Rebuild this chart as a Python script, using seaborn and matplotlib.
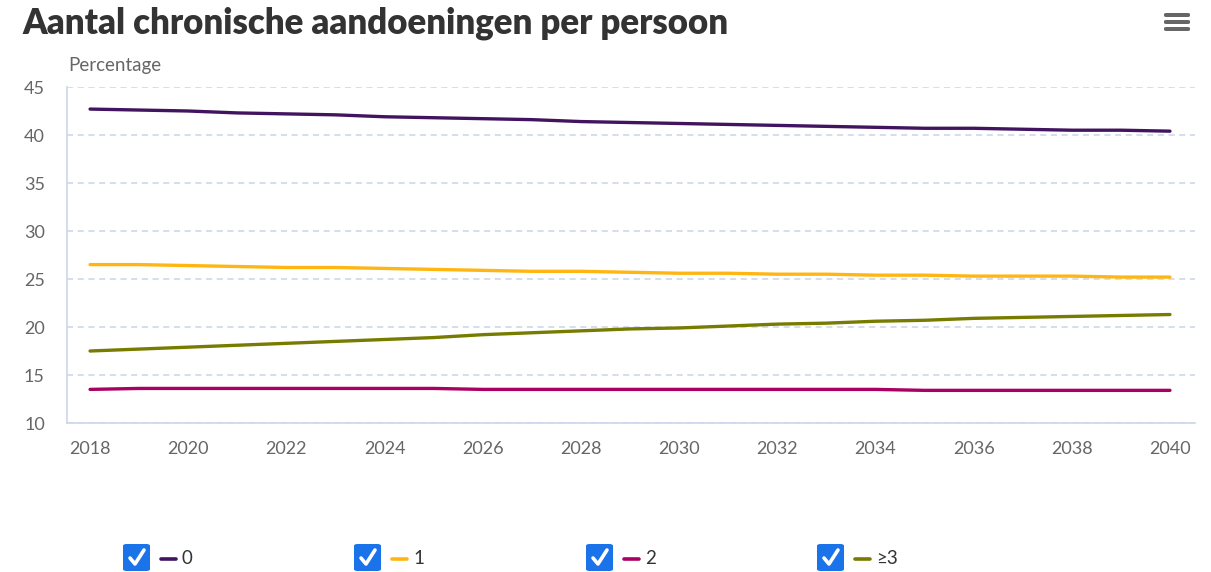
import numpy as np
import pandas as pd
import matplotlib
matplotlib.use("Agg")
import matplotlib.pyplot as plt
from matplotlib.patches import FancyBboxPatch, Rectangle
from matplotlib.lines import Line2D
import seaborn as sns

years = list(range(2018, 2041))
series_names = ["0", "1", "2", "≥3"]
vals_0 = [42.7, 42.6, 42.5, 42.3, 42.2, 42.1, 41.9, 41.8, 41.7, 41.6, 41.4, 41.3,
          41.2, 41.1, 41.0, 40.9, 40.8, 40.7, 40.7, 40.6, 40.5, 40.5, 40.4]
vals_1 = [26.5, 26.5, 26.4, 26.3, 26.2, 26.2, 26.1, 26.0, 25.9, 25.8, 25.8, 25.7,
          25.6, 25.6, 25.5, 25.5, 25.4, 25.4, 25.3, 25.3, 25.3, 25.2, 25.2]
vals_2 = [13.5, 13.6, 13.6, 13.6, 13.6, 13.6, 13.6, 13.6, 13.5, 13.5, 13.5, 13.5,
          13.5, 13.5, 13.5, 13.5, 13.5, 13.4, 13.4, 13.4, 13.4, 13.4, 13.4]
vals_3 = [17.5, 17.7, 17.9, 18.1, 18.3, 18.5, 18.7, 18.9, 19.2, 19.4, 19.6, 19.8,
          19.9, 20.1, 20.3, 20.4, 20.6, 20.7, 20.9, 21.0, 21.1, 21.2, 21.3]
colors = ["#42145f", "#ffb612", "#a90061", "#777c00"]
y_ticks = [10, 15, 20, 25, 30, 35, 40, 45]
x_ticks = list(range(2018, 2041, 2))
title = "Aantal chronische aandoeningen per persoon"
y_label = "Percentage"

df = pd.DataFrame({
    "jaar": years * 4,
    "waarde": vals_0 + vals_1 + vals_2 + vals_3,
    "aantal": sum([[n] * len(years) for n in series_names], []),
})

sns.set_theme(style="white")
plt.rcParams["font.family"] = ["Lato", "DejaVu Sans"]

W, H = 1211, 572
fig = plt.figure(figsize=(W / 100, H / 100), dpi=100)
fig.patch.set_facecolor("white")

def fx(px):
    return px / W

def fy(py):
    return 1 - py / H

ax = fig.add_axes([fx(67), fy(423), fx(1195) - fx(67), fy(87) - fy(423)])
sns.lineplot(data=df, x="jaar", y="waarde", hue="aantal", palette=colors,
             hue_order=series_names, linewidth=2.4, legend=False, ax=ax)

ax.set_xlim(2017.53, 2040.51)
ax.set_ylim(10, 45)
ax.set_yticks(y_ticks)
ax.set_xticks(x_ticks)
ax.set_xlabel("")
ax.set_ylabel("")
for s in ["top", "right"]:
    ax.spines[s].set_visible(False)
for s in ["left", "bottom"]:
    ax.spines[s].set_color("#ccd6eb")
    ax.spines[s].set_linewidth(1.2)
ax.grid(axis="y", color="#c8d6e6", linestyle=(0, (4, 3)), linewidth=1.1)
ax.set_axisbelow(True)
ax.tick_params(axis="x", colors="#ccd6eb", length=6, width=1.2, direction="out",
               labelcolor="#666666", labelsize=13, pad=7)
ax.tick_params(axis="y", length=0, labelcolor="#666666", labelsize=13, pad=16)
for lbl in ax.get_yticklabels():
    lbl.set_horizontalalignment("right")

fig.text(fx(22), fy(23), title, fontsize=25, fontweight="heavy", color="#333333",
         va="center", ha="left")
fig.text(fx(68), fy(66), y_label, fontsize=13.5, color="#666666", va="center", ha="left")

# hamburger icon
for yy in [15, 22, 29]:
    fig.add_artist(FancyBboxPatch((fx(1164), fy(yy + 2)), fx(26), fy(0) - fy(4),
                                  boxstyle="round,pad=0,rounding_size=0.002",
                                  transform=fig.transFigure, facecolor="#666666",
                                  edgecolor="none"))

# legend with checkboxes
box_x = [123, 354, 586, 817]
for i, name in enumerate(series_names):
    bx = box_x[i]
    fig.add_artist(FancyBboxPatch((fx(bx), fy(571)), fx(27), fy(544) - fy(571),
                                  boxstyle="round,pad=0,rounding_size=0.003",
                                  transform=fig.transFigure, facecolor="#1a73e8",
                                  edgecolor="none"))
    fig.add_artist(Line2D([fx(bx + 7), fx(bx + 12), fx(bx + 21)],
                          [fy(558), fy(564), fy(550)], transform=fig.transFigure,
                          color="white", linewidth=2.6, solid_capstyle="round",
                          solid_joinstyle="round"))
    fig.add_artist(Line2D([fx(bx + 38), fx(bx + 53)], [fy(559), fy(559)],
                          transform=fig.transFigure, color=colors[i], linewidth=2.6))
    fig.add_artist(plt.Text(fx(bx + 59), fy(558), name, fontsize=13.5, color="#333333",
                            va="center", ha="left", transform=fig.transFigure))

fig.savefig("out.png", dpi=100, facecolor="white")
